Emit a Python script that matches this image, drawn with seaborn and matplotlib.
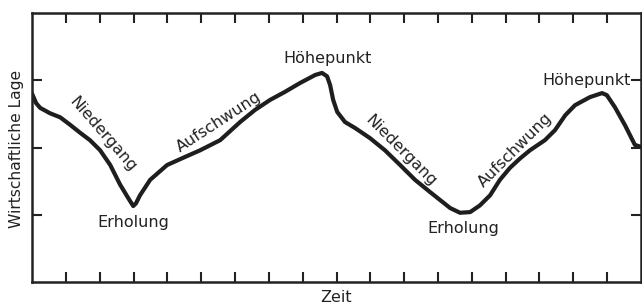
import numpy as np
import pandas as pd
import seaborn as sns
import matplotlib.pyplot as plt

# Konjunkturzyklus: Zeit (x) gegen wirtschaftliche Lage (y)
zeit = [0.00, 0.12, 0.24, 0.53, 0.83, 1.12, 1.42, 1.71, 2.01, 2.31, 2.60, 2.84, 2.99,
        3.07, 3.19, 3.49, 3.99, 4.52, 4.97, 5.56, 6.15, 6.59, 7.04, 7.48, 7.92, 8.37,
        8.57, 8.72, 8.81, 8.90, 9.02, 9.25, 9.55, 9.99, 10.43, 10.88, 11.32, 11.76,
        12.06, 12.36, 12.65, 12.95, 13.24, 13.54, 13.83, 14.13, 14.43, 14.72, 15.16,
        15.46, 15.76, 16.05, 16.49, 16.85, 16.99, 17.23, 17.53, 17.82, 18.00]
lage = [2.80, 2.66, 2.59, 2.51, 2.45, 2.34, 2.22, 2.11, 1.96, 1.74, 1.45, 1.25, 1.13,
        1.17, 1.29, 1.52, 1.74, 1.86, 1.96, 2.11, 2.38, 2.56, 2.71, 2.83, 2.96, 3.08,
        3.11, 3.06, 2.93, 2.71, 2.53, 2.38, 2.29, 2.14, 1.96, 1.74, 1.52, 1.34,
        1.22, 1.10, 1.03, 1.04, 1.14, 1.29, 1.52, 1.70, 1.84, 1.96, 2.11,
        2.26, 2.48, 2.63, 2.75, 2.81, 2.78, 2.60, 2.33, 2.04, 2.01]

# Beschriftungen der Phasen
phasen = ["Niedergang", "Aufschwung", "Höhepunkt", "Erholung",
          "Niedergang", "Erholung", "Aufschwung", "Höhepunkt"]
phasen_x = [2.10, 5.53, 8.72, 2.99, 10.91, 12.74, 14.28, 16.38]
phasen_y = [2.19, 2.38, 3.32, 0.88, 1.95, 0.80, 1.96, 3.00]
phasen_rot = [-49, 33, 0, 0, -45, 0, 45, 0]

df = pd.DataFrame({'Zeit': zeit, 'Lage': lage})

sns.set_style('ticks')
plt.rcParams['font.family'] = ['DejaVu Sans']

fig = plt.figure(figsize=(6.42, 3.05), dpi=100)
ax = fig.add_axes([0.050, 0.0754, 0.9484, 0.8816])

sns.lineplot(data=df, x='Zeit', y='Lage', color='#1e1e1e', linewidth=3.0, ax=ax,
             solid_joinstyle='round', solid_capstyle='round')

for txt, x, y, r in zip(phasen, phasen_x, phasen_y, phasen_rot):
    ax.text(x, y, txt, rotation=r, ha='center', va='center', rotation_mode='anchor',
            fontsize=11.5, color='#222222')

ax.set_xlim(0, 18)
ax.set_ylim(0, 4)
ax.set_xticks(np.arange(1, 18))
ax.set_yticks([1, 2, 3])
ax.set_xticklabels([])
ax.set_yticklabels([])
ax.tick_params(direction='in', length=7, width=1.5, color='#222222',
               top=True, right=True, bottom=True, left=True)
for s in ax.spines.values():
    s.set_linewidth(1.8)
    s.set_color('#222222')

ax.set_xlabel('Zeit', fontsize=11.5, color='#222222')
ax.set_ylabel('Wirtschaftliche Lage', fontsize=11.2, color='#222222')
ax.xaxis.set_label_coords(0.5, -0.028)
ax.yaxis.set_label_coords(-0.013, 0.495)

fig.savefig('out.png', dpi=100)
